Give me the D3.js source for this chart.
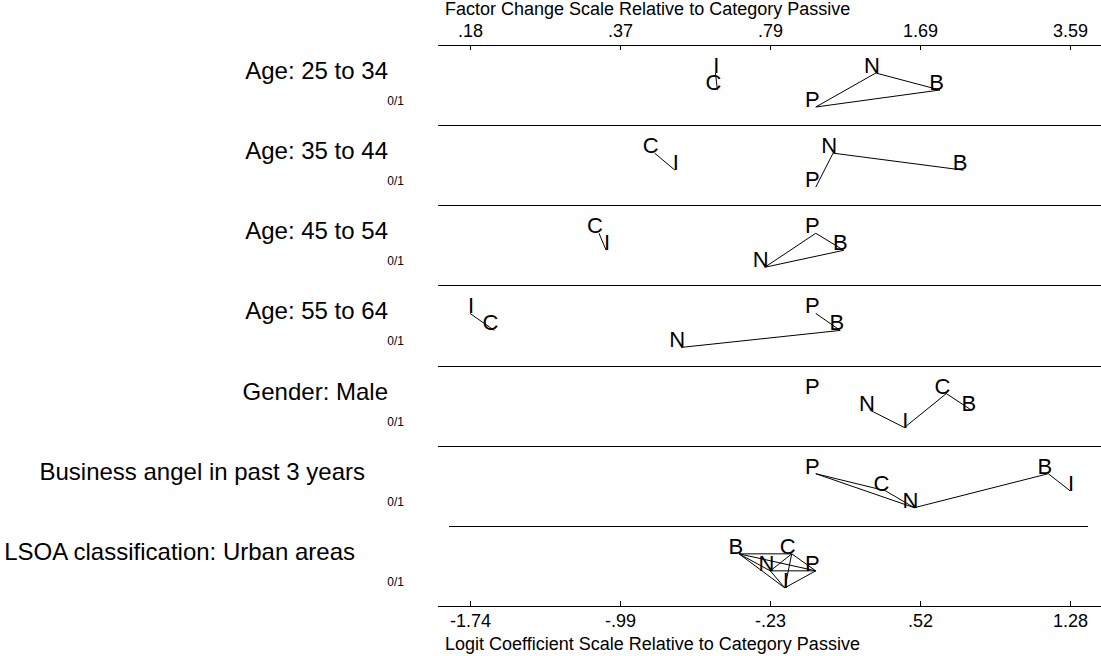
<!DOCTYPE html>
<html>
<head>
<meta charset="utf-8">
<script src="https://cdn.jsdelivr.net/npm/d3@7/dist/d3.min.js"></script>
<style>
  body { margin: 0; background: #fff; }
  text { font-family: "Liberation Sans", Arial, sans-serif; fill: #000; }
</style>
</head>
<body>
<svg id="plot" width="1101" height="656"></svg>
<script>
// variables (rows) and their type tag
var variables = ["Age: 25 to 34", "Age: 35 to 44", "Age: 45 to 54", "Age: 55 to 64",
                 "Gender: Male", "Business angel in past 3 years", "LSOA classification: Urban areas"];
var varTypes = ["0/1", "0/1", "0/1", "0/1", "0/1", "0/1", "0/1"];

// outcome categories, P (Passive) is the base
var categories = ["P", "N", "B", "C", "I"];

// logit coefficients relative to Passive, one value per row
var coefP = [0, 0, 0, 0, 0, 0, 0];
var coefN = [0.302, 0.087, -0.257, -0.678, 0.277, 0.496, -0.229];
var coefB = [0.625, 0.743, 0.141, 0.123, 0.787, 1.170, -0.386];
var coefC = [-0.495, -0.811, -1.091, -1.618, 0.657, 0.350, -0.121];
var coefI = [-0.505, -0.709, -1.055, -1.7403, 0.446, 1.2795, -0.156];

// pairs of categories that are not significantly different (joined by a line)
var linkedPairs = [
  [["P","N"], ["P","B"], ["N","B"], ["I","C"]],
  [["P","N"], ["N","B"], ["C","I"]],
  [["P","B"], ["P","N"], ["N","B"], ["C","I"]],
  [["P","B"], ["N","B"], ["I","C"]],
  [["N","I"], ["I","C"], ["C","B"]],
  [["P","C"], ["P","N"], ["C","N"], ["N","B"], ["B","I"]],
  [["B","C"], ["B","N"], ["B","I"], ["B","P"], ["N","C"], ["N","P"], ["N","I"], ["C","I"], ["C","P"], ["P","I"]]
];

// axis ticks
var logitTicks = [-1.7403, -0.98535, -0.2304, 0.52455, 1.2795];
var logitLabels = ["-1.74", "-.99", "-.23", ".52", "1.28"];
var factorLabels = [".18", ".37", ".79", "1.69", "3.59"];

var coefs = {P: coefP, N: coefN, B: coefB, C: coefC, I: coefI};

var svg = d3.select("#plot");
var plotTop = 45, plotBottom = 606;

var allVals = [];
categories.forEach(function(c) { allVals = allVals.concat(coefs[c]); });

var x = d3.scaleLinear()
    .domain(d3.extent(allVals))
    .range([470, 1070]);

var rowY = d3.scaleLinear()
    .domain([0, variables.length])
    .range([plotTop, plotBottom]);

// axis titles
svg.append("text")
    .attr("x", 445).attr("y", 15)
    .style("font-size", "18px")
    .text("Factor Change Scale Relative to Category Passive");

svg.append("text")
    .attr("x", 445).attr("y", 650)
    .style("font-size", "18px")
    .text("Logit Coefficient Scale Relative to Category Passive");

// top axis (factor change)
var topAxis = svg.append("g")
    .attr("transform", "translate(0," + plotTop + ")")
    .call(d3.axisTop(x)
        .tickValues(logitTicks)
        .tickFormat(function(d, i) { return factorLabels[i]; })
        .tickSizeInner(-5).tickSizeOuter(0).tickPadding(8));
topAxis.select(".domain").remove();

// bottom axis (logit)
var bottomAxis = svg.append("g")
    .attr("transform", "translate(0," + plotBottom + ")")
    .call(d3.axisBottom(x)
        .tickValues(logitTicks)
        .tickFormat(function(d, i) { return logitLabels[i]; })
        .tickSizeInner(-5).tickSizeOuter(0).tickPadding(8));
bottomAxis.select(".domain").remove();

svg.selectAll(".tick text")
    .style("font-size", "18px")
    .style("font-family", "'Liberation Sans', Arial, sans-serif")
    .attr("fill", "#000");
svg.selectAll(".tick line").attr("stroke", "#000");

// axis lines and row separators
svg.append("line").attr("x1", 438).attr("x2", 1101)
    .attr("y1", plotTop + 0.5).attr("y2", plotTop + 0.5).attr("stroke", "#000");
svg.append("line").attr("x1", 438).attr("x2", 1101)
    .attr("y1", plotBottom + 0.5).attr("y2", plotBottom + 0.5).attr("stroke", "#000");

d3.range(1, variables.length).forEach(function(k) {
  var last = k === variables.length - 1;
  svg.append("line")
      .attr("x1", last ? 449 : 438).attr("x2", last ? 1088 : 1101)
      .attr("y1", Math.round(rowY(k)) + 0.5).attr("y2", Math.round(rowY(k)) + 0.5)
      .attr("stroke", "#000");
});

// row labels (Stata right-aligns by its own width estimate, long names drift left)
var labelNudge = {"Business angel in past 3 years": -23, "LSOA classification: Urban areas": -33};

svg.selectAll(".varlabel")
    .data(variables)
    .enter().append("text")
    .attr("class", "varlabel")
    .attr("text-anchor", "end")
    .attr("x", function(d) { return 388 + (labelNudge[d] || 0); })
    .attr("y", function(d, i) { return rowY(i) + 34; })
    .style("font-size", "24px")
    .text(function(d) { return d; });

svg.selectAll(".vartype")
    .data(varTypes)
    .enter().append("text")
    .attr("class", "vartype")
    .attr("text-anchor", "end")
    .attr("x", 404)
    .attr("y", function(d, i) { return rowY(i) + 60; })
    .style("font-size", "12px")
    .text(function(d) { return d; });

// letters and their links, vertical level follows rank order (0,1,2,0,1)
variables.forEach(function(v, r) {
  var pts = categories.map(function(c) { return {cat: c, b: coefs[c][r]}; });
  var sorted = pts.slice().sort(function(a, b) { return a.b - b.b; });
  var pos = {};
  sorted.forEach(function(p, i) {
    pos[p.cat] = {x: x(p.b), y: rowY(r) + 28 + 17 * (i % 3)};
  });

  var g = svg.append("g").attr("class", "row");

  g.selectAll("line")
      .data(linkedPairs[r])
      .enter().append("line")
      .attr("x1", function(d) { return pos[d[0]].x; })
      .attr("y1", function(d) { return pos[d[0]].y; })
      .attr("x2", function(d) { return pos[d[1]].x; })
      .attr("y2", function(d) { return pos[d[1]].y; })
      .attr("stroke", "#000")
      .attr("stroke-width", 1);

  g.selectAll("text")
      .data(pts)
      .enter().append("text")
      .attr("text-anchor", "end")
      .attr("x", function(d) { return pos[d.cat].x + 4; })
      .attr("y", function(d) { return pos[d.cat].y; })
      .style("font-size", "22px")
      .text(function(d) { return d.cat; });
});
</script>
</body>
</html>
